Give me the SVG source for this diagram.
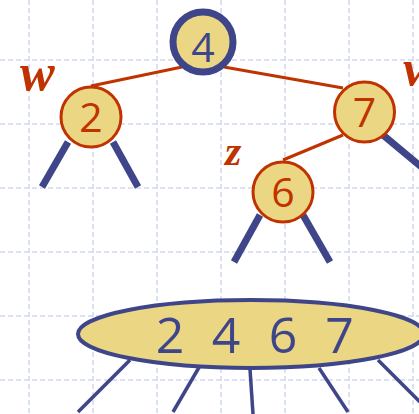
<svg xmlns="http://www.w3.org/2000/svg" width="419" height="414" viewBox="0 0 419 414">
<style>
.grid{stroke:#cfd9f4;stroke-width:1.5;stroke-dasharray:5 3;fill:none}
.red{stroke:#c03300;stroke-width:3;fill:none}
.sub{stroke:#3f4589;stroke-width:7;fill:none}
.thin{stroke:#3f4589;stroke-width:3.5;fill:none}
.node{fill:#ebd683;stroke:#c03300;stroke-width:3}
.lbl{font-family:"Open Sans",sans-serif;font-size:41px;fill:#c03300;text-anchor:middle}
.var{font-family:"Liberation Serif",serif;font-style:italic;font-weight:bold;fill:#c03300}
</style>
<rect width="419" height="414" fill="#fff"/>
<g class="grid">
<path d="M29 0V414M93 0V414M157 0V414M221 0V414M285 0V414M349 0V414M413 0V414"/>
<path d="M0 60H419M0 124H419M0 188H419M0 252H419M0 316H419M0 380H419"/>
</g>
<g id="connectors">
<line class="red" x1="182" y1="67" x2="91" y2="86"/>
<line class="red" x1="224" y1="67" x2="343" y2="88"/>
<line class="red" x1="343" y1="135" x2="283" y2="160"/>
<line class="sub" x1="68" y1="142" x2="42" y2="187"/>
<line class="sub" x1="113" y1="142" x2="138" y2="187"/>
<line class="sub" x1="260" y1="215" x2="234" y2="262"/>
<line class="sub" x1="303" y1="215" x2="330" y2="262"/>
<line class="sub" x1="383" y1="135" x2="425" y2="170"/>
<line class="thin" x1="130" y1="360" x2="78" y2="412"/>
<line class="thin" x1="201" y1="364" x2="173" y2="412"/>
<line class="thin" x1="250" y1="369" x2="253" y2="414"/>
<line class="thin" x1="319" y1="368" x2="348" y2="412"/>
<line class="thin" x1="378" y1="360" x2="432" y2="414"/>
</g>
<g id="n4">
<circle cx="203" cy="42" r="30" fill="#ebd683" stroke="#3f4589" stroke-width="7"/>
<text x="203" y="62" class="lbl" style="fill:#3f4589">4</text>
</g>
<g id="n2">
<circle class="node" cx="91" cy="117" r="30"/>
<text x="91" y="132" class="lbl">2</text>
</g>
<g id="n7">
<circle class="node" cx="364.5" cy="112" r="30"/>
<text x="364.5" y="127" class="lbl">7</text>
</g>
<g id="n6">
<circle class="node" cx="283" cy="192" r="30"/>
<text x="283" y="207" class="lbl">6</text>
</g>
<g id="labels">
<text x="20" y="90" class="var" font-size="52">w</text>
<text x="225" y="165" class="var" font-size="42">z</text>
<text x="403" y="85" class="var" font-size="50">v</text>
</g>
<g id="merged">
<ellipse cx="251" cy="334" rx="173" ry="34" fill="#ebd683" stroke="#3f4589" stroke-width="4"/>
<text font-family="Open Sans,sans-serif" font-size="50" fill="#3f4589" y="353"><tspan x="155.7">2</tspan> <tspan x="211.7">4</tspan> <tspan x="268.7">6</tspan> <tspan x="325.2">7</tspan></text>
</g>
</svg>
